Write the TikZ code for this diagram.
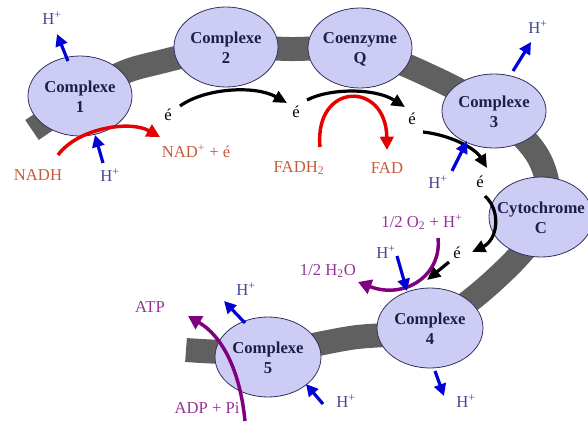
\documentclass[tikz,border=0pt]{standalone}
\usepackage{fontspec}
\setmainfont{Liberation Serif}
\usepackage{xcolor}
\usepackage{tikz}
\usetikzlibrary{arrows.meta}

\definecolor{cplxfill}{RGB}{204,204,245}
\definecolor{cplxline}{RGB}{50,50,90}
\definecolor{cplxtext}{RGB}{30,30,70}
\definecolor{htext}{RGB}{70,70,150}
\definecolor{redtext}{RGB}{200,90,60}
\definecolor{purptext}{RGB}{150,50,150}
\definecolor{harrow}{RGB}{0,0,215}
\definecolor{redarrow}{RGB}{230,0,0}
\definecolor{purparrow}{RGB}{128,0,128}
\definecolor{band}{RGB}{96,96,96}

\newcommand{\Hp}{H\textsuperscript{+}}

\begin{document}
\begin{tikzpicture}[x=0.75pt,y=0.75pt,yscale=-1,xscale=1,
	cplx/.style={draw=cplxline,fill=cplxfill,line width=0.6pt},
	cplxlbl/.style={inner sep=0.75pt,align=center,text=cplxtext,font=\fontsize{12.5}{15}\selectfont\bfseries},
	lbl/.style={inner sep=0.75pt,font=\fontsize{12.5}{14}\selectfont},
	hlbl/.style={lbl,text=htext},
	elbl/.style={lbl,text=black},
	harr/.style={draw=harrow,line width=2.4pt,-{Triangle[length=9pt,width=9pt]}},
	earr/.style={draw=black,line width=2.4pt,-{Triangle[length=10pt,width=9pt]}},
	rarr/.style={draw=redarrow,line width=2.6pt,-{Triangle[length=10pt,width=10pt]}},
	parr/.style={draw=purparrow,line width=2.6pt,-{Triangle[length=10pt,width=11pt]}}]
	\useasboundingbox (0,0) rectangle (588,421);
	
	%Membrane band
	\draw[band,line width=18pt] plot[smooth,tension=0.6] coordinates {(32,130) (80,98) (120,74) (160,62) (226,48) (290,49) (360,50) (430,76) (494,112) (540,160) (545,215) (505,270) (430,326) (350,338) (267,352) (186,350)};
	
	%Shape: Ellipse
	\draw[cplx] (80,96) ellipse (52 and 40);
	%Shape: Ellipse
	\draw[cplx] (226,47) ellipse (52 and 40);
	%Shape: Ellipse
	\draw[cplx] (360,48) ellipse (52 and 40);
	%Shape: Ellipse
	\draw[cplx] (494,111) ellipse (52 and 37);
	%Shape: Ellipse
	\draw[cplx] (541,217) ellipse (52 and 40);
	%Shape: Ellipse
	\draw[cplx] (430,328) ellipse (53 and 40);
	%Shape: Ellipse
	\draw[cplx] (268,357) ellipse (53 and 40);
	
	% Text Node
	\node[cplxlbl] (c1) at (80,97) {Complexe\\1};
	\node[cplxlbl] (c2) at (226,48) {Complexe\\2};
	\node[cplxlbl] (cq) at (360,49) {Coenzyme\\Q};
	\node[cplxlbl] (c3) at (494,112) {Complexe\\3};
	\node[cplxlbl] (cyt) at (541,218) {Cytochrome\\C};
	\node[cplxlbl] (c4) at (430,329) {Complexe\\4};
	\node[cplxlbl] (c5) at (268,358) {Complexe\\5};
	
	%Curve Lines: electrons
	\draw[earr] (180,106) .. controls (205,88) and (255,85) .. (287,103);
	\draw[earr] (307,100) .. controls (330,88) and (375,88) .. (405,107);
	\draw[earr] (423,132) .. controls (450,135) and (475,148) .. (487,168);
	\draw[earr] (485,196) .. controls (502,212) and (497,240) .. (472,252);
	%Straight Lines
	\draw[earr] (449,262) -- (427,280);
	
	% Text Node
	\node[elbl] (e1) at (168,115) {é};
	\node[elbl] (e2) at (296,112) {é};
	\node[elbl] (e3) at (412,119) {é};
	\node[elbl] (e4) at (480,182) {é};
	\node[elbl] (e5) at (457,253) {é};
	
	%Curve Lines: NADH, FADH2
	\draw[rarr] (58,155) .. controls (78,128) and (130,120) .. (160,137);
	\draw[rarr] (320,147) .. controls (314,82) and (386,80) .. (387,150);
	
	%Curve Lines: oxygen, ATP
	\draw[parr] (438,238) .. controls (442,275) and (405,300) .. (358,282);
	\draw[parr] (245,421) .. controls (240,370) and (222,336) .. (188,316);
	
	%Straight Lines: protons
	\draw[harr] (68,61) -- (57,34);
	\draw[harr] (103,163) -- (95,135);
	\draw[harr] (513,71) -- (531,42);
	\draw[harr] (452,171) -- (467,141);
	\draw[harr] (397,256) -- (407,291);
	\draw[harr] (435,371) -- (444,396);
	\draw[harr] (323,404) -- (306,384);
	\draw[harr] (245,323) -- (224,301);
	
	% Text Node
	\node[hlbl] (h1) at (52,18) {\Hp};
	\node[hlbl] (h2) at (110,175) {\Hp};
	\node[hlbl] (h3) at (538,27) {\Hp};
	\node[hlbl] (h4) at (438,182) {\Hp};
	\node[hlbl] (h5) at (386,252) {\Hp};
	\node[hlbl] (h6) at (466,401) {\Hp};
	\node[hlbl] (h7) at (346,401) {\Hp};
	\node[hlbl] (h8) at (246,289) {\Hp};
	
	% Text Node
	\node[lbl,text=redtext] (nadh) at (38,175) {NADH};
	\node[lbl,text=redtext] (nad) at (196,151) {NAD\textsuperscript{+} + é};
	\node[lbl,text=redtext] (fadh) at (299,168) {FADH\textsubscript{2}};
	\node[lbl,text=redtext] (fad) at (387,168) {FAD};
	\node[lbl,text=purptext] (oxy) at (422,222) {1/2 O\textsubscript{2} + \Hp};
	\node[lbl,text=purptext] (water) at (328,271) {1/2 H\textsubscript{2}O};
	\node[lbl,text=purptext] (atp) at (150,307) {ATP};
	\node[lbl,text=purptext] (adp) at (207,408) {ADP + Pi};
\end{tikzpicture}
\end{document}
